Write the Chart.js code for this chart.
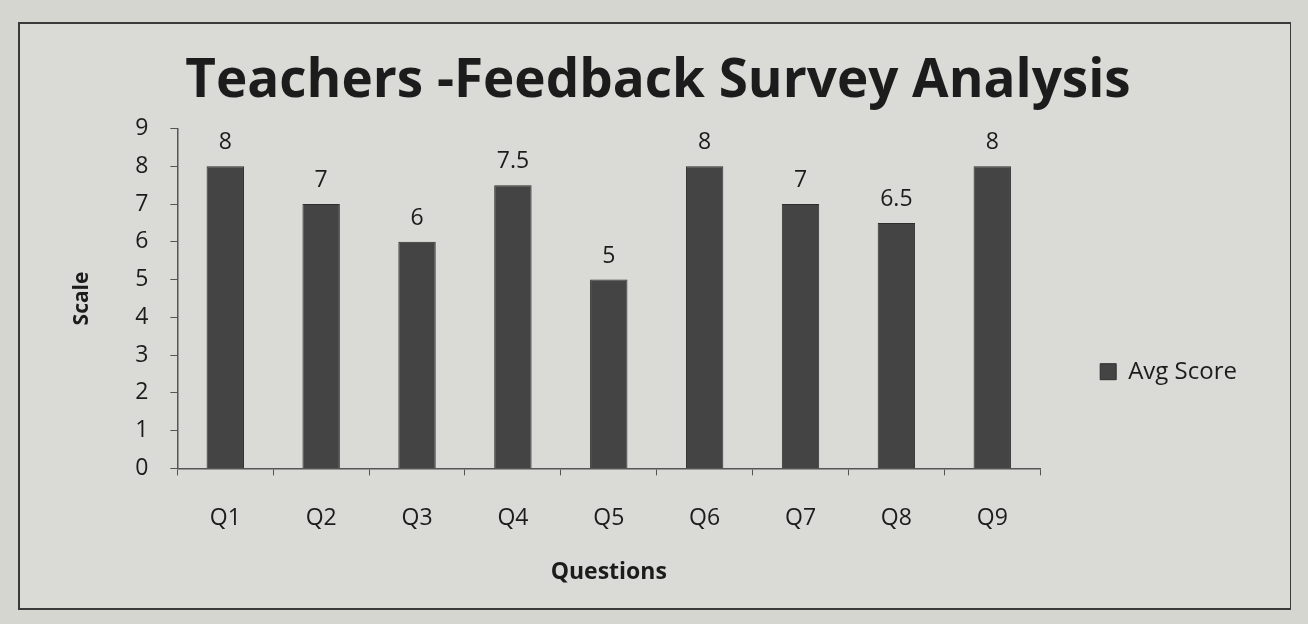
<!DOCTYPE html>
<html>
<head>
<meta charset="utf-8">
<script src="https://cdn.jsdelivr.net/npm/chart.js@4"></script>
<style>
  html, body { margin: 0; padding: 0; background: #d6d6d1; width: 1308px; height: 624px; overflow: hidden; }
  #box { position: absolute; left: 18px; top: 22px; width: 1270px; height: 584px; border: 2px solid #3a3a3a; border-right-width: 1px; background: #dadad6; }
  canvas { display: block; }
</style>
</head>
<body>
<div id="box"><canvas id="c" width="1270" height="584"></canvas></div>
<script>
const categories = ["Q1", "Q2", "Q3", "Q4", "Q5", "Q6", "Q7", "Q8", "Q9"];
const avgScore = [8, 7, 6, 7.5, 5, 8, 7, 6.5, 8];
const yTicks = [0, 1, 2, 3, 4, 5, 6, 7, 8, 9];
const FONT = "'Open Sans', Lato, sans-serif";
const TXT = "#1c1c1c";

const valueLabels = {
  id: "valueLabels",
  afterDatasetsDraw(chart) {
    const ctx = chart.ctx;
    const meta = chart.getDatasetMeta(0);
    ctx.save();
    ctx.fillStyle = TXT;
    ctx.font = "23px " + FONT;
    ctx.textAlign = "center";
    ctx.textBaseline = "bottom";
    meta.data.forEach((bar, i) => {
      ctx.fillText(String(chart.data.datasets[0].data[i]), bar.x, bar.y - 12);
    });
    ctx.restore();
  }
};

new Chart(document.getElementById("c"), {
  type: "bar",
  data: {
    labels: categories,
    datasets: [{
      label: "Avg Score",
      data: avgScore,
      backgroundColor: "#444444",
      borderColor: "#2e2e2e",
      borderWidth: 1,
      categoryPercentage: 1,
      barPercentage: 0.39
    }]
  },
  options: {
    responsive: false,
    animation: false,
    layout: { padding: { left: 49, right: 43, top: 0, bottom: 20 } },
    plugins: {
      title: {
        display: true,
        text: "Teachers -Feedback Survey Analysis",
        color: TXT,
        font: { family: FONT, size: 53, weight: "bold" },
        padding: { top: 26, bottom: 15 }
      },
      legend: {
        position: "right",
        title: { display: true, text: " ", font: { size: 12 }, padding: { top: 117, bottom: 0 } },
        labels: {
          color: TXT,
          font: { family: FONT, size: 24 },
          boxWidth: 16,
          boxHeight: 16,
          padding: 10
        }
      },
      tooltip: { enabled: false }
    },
    scales: {
      x: {
        grid: { display: true, drawOnChartArea: false, offset: true, color: "#555", tickLength: 7, tickColor: "#555" },
        border: { display: true, color: "#555", width: 1.5 },
        ticks: { color: TXT, font: { family: FONT, size: 23 }, padding: 29 },
        title: { display: true, text: "Questions", color: TXT, font: { family: FONT, size: 23, weight: "bold", lineHeight: 1 }, padding: { top: 0, bottom: 4 } }
      },
      y: {
        min: 0, max: 9,
        afterBuildTicks(scale) { scale.ticks = yTicks.map(v => ({ value: v })); },
        grid: { display: true, drawOnChartArea: false, color: "#555", tickLength: 7, tickColor: "#555" },
        border: { display: true, color: "#555", width: 1.5 },
        ticks: { color: TXT, font: { family: FONT, size: 23 }, padding: 22 },
        title: { display: true, text: "Scale", color: TXT, font: { family: FONT, size: 21, weight: "bold" }, padding: { top: 0, bottom: 19 } }
      },
      gap: {
        position: "right",
        display: true,
        grid: { display: false },
        border: { display: false },
        ticks: { display: false },
        afterFit(scale) { scale.width = 50; }
      }
    }
  },
  plugins: [valueLabels]
});
</script>
</body>
</html>
